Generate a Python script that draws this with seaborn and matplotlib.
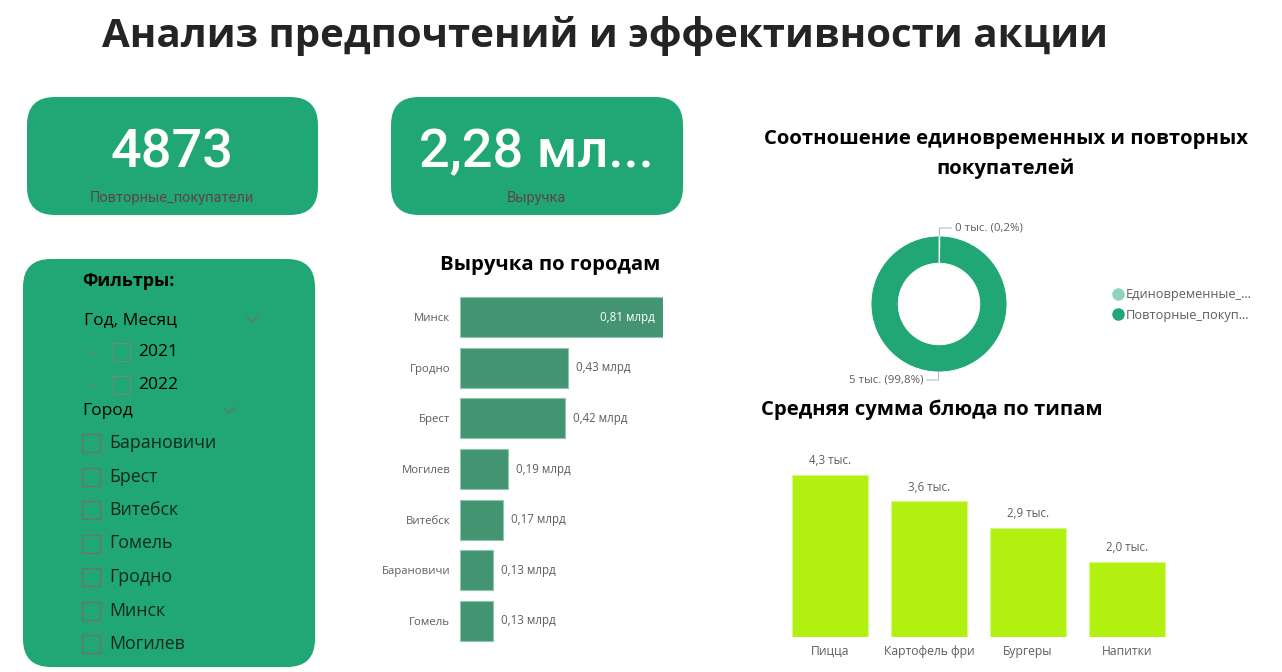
import matplotlib
matplotlib.use('Agg')
import matplotlib.pyplot as plt
import numpy as np
import seaborn as sns
from matplotlib.patches import FancyBboxPatch, Rectangle
from matplotlib.lines import Line2D

# data
cities = ['Минск', 'Гродно', 'Брест', 'Могилев', 'Витебск', 'Барановичи', 'Гомель']
revenue_bln = [0.81, 0.43, 0.42, 0.19, 0.17, 0.13, 0.13]

dish_types = ['Пицца', 'Картофель фри', 'Бургеры', 'Напитки']
avg_price_k = [4.3, 3.6, 2.9, 2.0]

customer_types = ['Единовременные_...', 'Повторные_покуп...']
customer_counts = [10, 4873]

repeat_customers = 4873
filter_years = ['2021', '2022']
filter_cities = ['Барановичи', 'Брест', 'Витебск', 'Гомель', 'Гродно', 'Минск', 'Могилев']

W, H = 1282, 672
GREEN = '#20A775'
BAR_GREEN = '#439572'
LIME = '#B2F10F'
GREY = '#605E5C'
TITLE = '#252423'

sns.set_theme(style='white')
plt.rcParams['font.family'] = ['Open Sans', 'DejaVu Sans']

fig = plt.figure(figsize=(W / 100, H / 100), dpi=100)

def px_axes(x0, y0, x1, y1):
    return fig.add_axes([x0 / W, 1 - y1 / H, (x1 - x0) / W, (y1 - y0) / H])

def ru(v, nd):
    return f'{v:.{nd}f}'.replace('.', ',')

# background layer in pixel units
bg = fig.add_axes([0, 0, 1, 1])
bg.set_xlim(0, W)
bg.set_ylim(H, 0)
bg.axis('off')

bg.text(605, 36, 'Анализ предпочтений и эффективности акции', ha='center', va='center',
        fontsize=29, fontweight='bold', color=TITLE)

# cards
for x0, y0, w, h in [(27, 97, 291, 118), (391, 97, 292, 118), (23, 259, 292, 408)]:
    bg.add_patch(FancyBboxPatch((x0, y0), w, h, boxstyle='round,pad=0,rounding_size=28',
                                fc=GREEN, ec='none'))

kpi_font = ['Roboto', 'DejaVu Sans']
bg.text(172, 153, str(repeat_customers), ha='center', va='center', fontsize=39,
        fontweight='medium', color='white', family=kpi_font)
bg.text(172, 198, 'Повторные_покупатели', ha='center', va='center', fontsize=10.5,
        color='#5E4450', family=kpi_font)
total = ru(sum(revenue_bln), 2) + ' мл...'
bg.text(536, 153, total, ha='center', va='center', fontsize=39,
        fontweight='medium', color='white', family=kpi_font)
bg.text(536, 198, 'Выручка', ha='center', va='center', fontsize=10.5,
        color='#5E4450', family=kpi_font)

# filter panel
def chevron(x, y, s=6, c='#7A6A70'):
    bg.plot([x - s, x, x + s], [y - s / 2, y + s / 2, y - s / 2], color=c, lw=0.8)

bg.text(82, 281, 'Фильтры:', ha='left', va='center', fontsize=13, fontweight='bold', color='black')
bg.text(84, 320, 'Год, Месяц', ha='left', va='center', fontsize=12.5, color='black')
chevron(252, 319)
for i, yr in enumerate(filter_years):
    y = 352 + i * 33
    chevron(93, y, s=5, c='#5E8F7A')
    bg.add_patch(Rectangle((113, y - 9), 17, 18, fill=False, ec='#6F8A7E', lw=0.8))
    bg.text(138, y, yr, ha='left', va='center', fontsize=12.5, color='black')
bg.text(82, 411, 'Город', ha='left', va='center', fontsize=12.5, color='black')
chevron(229, 410)
for i, c in enumerate(filter_cities):
    y = 443 + i * 33.5
    bg.add_patch(Rectangle((82, y - 9), 18, 18, fill=False, ec='#7D6A70', lw=0.9))
    bg.text(109, y, c, ha='left', va='center', fontsize=12.8, color='#0F2A1C')

# revenue by city
bg.text(550, 265, 'Выручка по городам', ha='center', va='center', fontsize=14.6,
        fontweight='bold', color='black')
ax1 = px_axes(460, 291.7, 663, 646.3)
sns.barplot(x=revenue_bln, y=cities, orient='h', color=BAR_GREEN, saturation=1,
            width=0.79, edgecolor='#8FC7AE', linewidth=0.8, ax=ax1)
ax1.set_xlim(0, max(revenue_bln))
ax1.set_ylim(len(cities) - 0.5, -0.5)
for i, v in enumerate(revenue_bln):
    lab = ru(v, 2) + ' млрд'
    if v == max(revenue_bln):
        ax1.annotate(lab, (v, i), xytext=(-8, 0), textcoords='offset pixels',
                     ha='right', va='center', fontsize=8.3, color='white')
    else:
        ax1.annotate(lab, (v, i), xytext=(8, 0), textcoords='offset pixels',
                     ha='left', va='center', fontsize=8.3, color=GREY)
ax1.set_xlabel('')
ax1.set_ylabel('')
ax1.set_xticks([])
ax1.tick_params(axis='y', length=0, pad=7, labelsize=8.2, labelcolor=GREY)
sns.despine(ax=ax1, left=True, bottom=True)

# donut
bg.text(1006, 154, 'Соотношение единовременных и повторных\nпокупателей', ha='center',
        va='center', fontsize=14.6, fontweight='bold', color='black', linespacing=1.55)
ax2 = px_axes(859, 224, 1019, 384)
wedges, _ = ax2.pie(customer_counts, colors=['#8FD3B9', GREEN], startangle=90,
                    counterclock=False, radius=0.85,
                    wedgeprops=dict(width=0.34, edgecolor='white', linewidth=0.6))
ax2.set_xlim(-1, 1)
ax2.set_ylim(-1, 1)
ax2.set_aspect('equal')
tot = sum(customer_counts)
for wdg, v in zip(wedges, customer_counts):
    ang = np.deg2rad((wdg.theta1 + wdg.theta2) / 2)
    x, y = 0.85 * np.cos(ang), 0.85 * np.sin(ang)
    x2, y2 = 0.95 * np.cos(ang), 0.95 * np.sin(ang)
    side = 1 if y > 0 else -1
    x3 = x2 + 0.15 * side
    ax2.plot([x, x2, x3], [y, y2, y2], color='#BDBDBD', lw=0.8, clip_on=False)
    lab = f'{ru(v / 1000, 0)} тыс. ({ru(v / tot * 100, 1)}%)'
    ax2.text(x3 + 0.04 * side, y2, lab, ha='left' if side > 0 else 'right', va='center',
             fontsize=8.2, color=GREY)
handles = [Line2D([], [], marker='o', ls='', color=c, markersize=8) for c in ['#8FD3B9', GREEN]]
ax2.legend(handles, customer_types, loc='center left', bbox_to_anchor=(1100 / W, 1 - 305 / H),
           bbox_transform=fig.transFigure, frameon=False, handletextpad=0.1,
           labelspacing=0.55, fontsize=9.2, labelcolor=GREY, handlelength=1.0)

# average dish price
bg.text(761, 410, 'Средняя сумма блюда по типам', ha='left', va='center', fontsize=14.6,
        fontweight='bold', color='black')
ax3 = px_axes(780.5, 450, 1176.5, 637)
sns.barplot(x=dish_types, y=avg_price_k, color=LIME, saturation=1, width=0.77,
            edgecolor='#D6F88A', linewidth=0.8, ax=ax3)
ax3.set_xlim(-0.5, len(dish_types) - 0.5)
ax3.set_ylim(0, (637 - 450) / 37.7)
for i, v in enumerate(avg_price_k):
    ax3.annotate(ru(v, 1) + ' тыс.', (i, v), xytext=(0, 14),
                 textcoords='offset pixels', ha='center', va='center', fontsize=8.3, color=GREY)
ax3.set_xlabel('')
ax3.set_ylabel('')
ax3.set_yticks([])
ax3.tick_params(axis='x', length=0, pad=6, labelsize=8.7, labelcolor=GREY)
sns.despine(ax=ax3, left=True, bottom=True)

fig.savefig('out.png', dpi=100)
